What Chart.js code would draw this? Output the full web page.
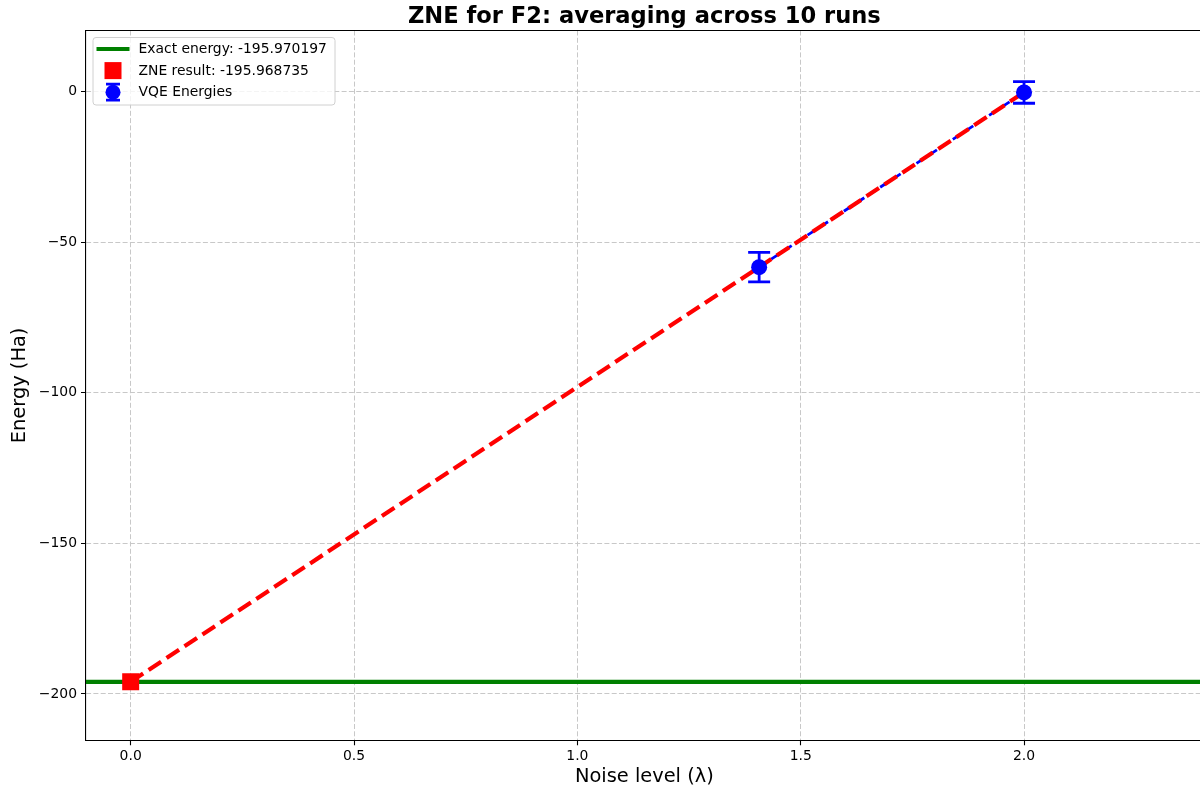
<!DOCTYPE html>
<html>
<head>
<meta charset="utf-8">
<title>ZNE for F2</title>
<script src="https://cdn.jsdelivr.net/npm/chart.js@4.4.1/dist/chart.umd.min.js"></script>
<style>
    html, body { margin: 0; padding: 0; background: #fff; overflow: hidden; }
    #zne-chart { display: block; }
</style>
</head>
<body>
<canvas id="zne-chart" width="1210" height="791"></canvas>
<script>
// VQE runs (mean over 10 runs) at each noise scale factor
const noiseLevels = [1.407, 2.0];
const vqeEnergies = [-58.28, -0.25];
const vqeErrors = [4.9, 3.6];

// zero-noise extrapolated value and reference energy
const zneNoise = [0];
const zneEnergy = [-195.968735];
const exactEnergy = -195.970197;

const xTickValues = [0, 0.5, 1.0, 1.5, 2.0];
const yTickValues = [-200, -150, -100, -50, 0];

const X_MIN = -0.1;
const X_MAX = 2.4;
const Y_MIN = -215.4;
const Y_MAX = 20.3;

const TITLE = "ZNE for F2: averaging across 10 runs";

const COLORS = {
    exact: "#008000",
    zne: "#ff0000",
    vqe: "#0000ff",
    grid: "#c8c8c8",
    text: "#000000"
};

const FONT = "'DejaVu Sans', sans-serif";

const vqePoints = noiseLevels.map((x, i) => ({ x, y: vqeEnergies[i] }));
const znePoints = zneNoise.map((x, i) => ({ x, y: zneEnergy[i] }));
const fitPoints = znePoints.concat(vqePoints);
const exactPoints = [{ x: X_MIN, y: exactEnergy }, { x: X_MAX, y: exactEnergy }];

const legendItems = [
    { kind: "line", label: `Exact energy: ${exactEnergy.toFixed(6)}` },
    { kind: "square", label: `ZNE result: ${zneEnergy[0].toFixed(6)}` },
    { kind: "errorbar", label: "VQE Energies" }
];

function minusSign(text) {
    return String(text).replace("-", "\u2212");
}

// vertical error bars with caps on the VQE points
const errorBarPlugin = {
    id: "errorBars",
    afterDatasetsDraw(chart) {
        const { ctx, scales } = chart;
        ctx.save();
        ctx.strokeStyle = COLORS.vqe;
        ctx.lineWidth = 2.8;
        vqePoints.forEach((pt, i) => {
            const px = scales.x.getPixelForValue(pt.x);
            const top = scales.y.getPixelForValue(pt.y + vqeErrors[i]);
            const bottom = scales.y.getPixelForValue(pt.y - vqeErrors[i]);
            ctx.beginPath();
            ctx.moveTo(px, top);
            ctx.lineTo(px, bottom);
            ctx.moveTo(px - 11, top);
            ctx.lineTo(px + 11, top);
            ctx.moveTo(px - 11, bottom);
            ctx.lineTo(px + 11, bottom);
            ctx.stroke();
        });
        ctx.restore();
    }
};

// title centred over the axes, top/right spines and the boxed legend
const frameLegendPlugin = {
    id: "frameLegend",
    afterDraw(chart) {
        const { ctx, chartArea } = chart;
        ctx.save();
        ctx.fillStyle = COLORS.text;
        ctx.font = `bold 22.6px ${FONT}`;
        ctx.textAlign = "center";
        ctx.textBaseline = "alphabetic";
        ctx.fillText(TITLE, (chartArea.left + chartArea.right) / 2, chartArea.top - 8);

        ctx.strokeStyle = "#000";
        ctx.lineWidth = 1.1;
        ctx.beginPath();
        ctx.moveTo(chartArea.left, chartArea.top);
        ctx.lineTo(chartArea.right, chartArea.top);
        ctx.lineTo(chartArea.right, chartArea.bottom);
        ctx.stroke();

        const boxX = chartArea.left + 7;
        const boxY = chartArea.top + 7;
        const boxW = 242;
        const boxH = 67.5;
        ctx.beginPath();
        ctx.roundRect(boxX, boxY, boxW, boxH, 3);
        ctx.fillStyle = "rgba(255,255,255,0.8)";
        ctx.fill();
        ctx.strokeStyle = "#d0d0d0";
        ctx.lineWidth = 1;
        ctx.stroke();

        const markerX = boxX + 20;
        const textX = boxX + 45.5;
        ctx.font = `13.9px ${FONT}`;
        ctx.textAlign = "left";
        ctx.textBaseline = "middle";
        legendItems.forEach((item, i) => {
            const cy = boxY + 11.5 + i * 21.6;
            if (item.kind === "line") {
                ctx.strokeStyle = COLORS.exact;
                ctx.lineWidth = 4;
                ctx.beginPath();
                ctx.moveTo(markerX - 16.5, cy);
                ctx.lineTo(markerX + 16.5, cy);
                ctx.stroke();
            } else if (item.kind === "square") {
                ctx.fillStyle = COLORS.zne;
                ctx.fillRect(markerX - 8.5, cy - 8.5, 17, 17);
            } else {
                ctx.strokeStyle = COLORS.vqe;
                ctx.fillStyle = COLORS.vqe;
                ctx.lineWidth = 2.8;
                ctx.beginPath();
                ctx.moveTo(markerX, cy - 8);
                ctx.lineTo(markerX, cy + 8);
                ctx.moveTo(markerX - 7, cy - 8);
                ctx.lineTo(markerX + 7, cy - 8);
                ctx.moveTo(markerX - 7, cy + 8);
                ctx.lineTo(markerX + 7, cy + 8);
                ctx.stroke();
                ctx.beginPath();
                ctx.arc(markerX, cy, 7.5, 0, Math.PI * 2);
                ctx.fill();
            }
            ctx.fillStyle = COLORS.text;
            ctx.fillText(item.label, textX, cy + 0.5);
        });
        ctx.restore();
    }
};

const gridOptions = {
    color: COLORS.grid,
    lineWidth: 1,
    tickColor: "#000",
    tickLength: 5,
    tickWidth: 1.1,
    tickBorderDash: [1, 0]
};

const chart = new Chart(document.getElementById("zne-chart"), {
    type: "scatter",
    data: {
        datasets: [
            {
                label: "ZNE result",
                data: znePoints,
                pointStyle: "rect",
                pointRadius: 12,
                backgroundColor: COLORS.zne,
                borderWidth: 0,
                order: 0
            },
            {
                label: "VQE Energies",
                data: vqePoints,
                pointStyle: "circle",
                pointRadius: 8,
                backgroundColor: COLORS.vqe,
                borderWidth: 0,
                order: 1
            },
            {
                type: "line",
                label: "Extrapolation",
                data: fitPoints,
                borderColor: COLORS.zne,
                borderWidth: 4.2,
                borderDash: [15, 6.5],
                pointRadius: 0,
                fill: false,
                order: 2
            },
            {
                type: "line",
                label: "VQE trend",
                data: vqePoints,
                borderColor: COLORS.vqe,
                borderWidth: 2.8,
                borderDash: [10, 4.5],
                pointRadius: 0,
                fill: false,
                order: 3
            },
            {
                type: "line",
                label: "Exact energy",
                data: exactPoints,
                borderColor: COLORS.exact,
                borderWidth: 4.2,
                pointRadius: 0,
                fill: false,
                order: 4
            }
        ]
    },
    options: {
        responsive: false,
        animation: false,
        events: [],
        layout: { autoPadding: false, padding: { left: 0, right: 7.3, top: 30.5, bottom: 0 } },
        plugins: {
            legend: { display: false },
            tooltip: { enabled: false },
            title: { display: false }
        },
        scales: {
            x: {
                type: "linear",
                min: X_MIN,
                max: X_MAX,
                afterBuildTicks(scale) {
                    scale.ticks = xTickValues.map((value) => ({ value }));
                },
                afterFit(scale) {
                    scale.height = 50.7;
                    scale.paddingLeft = 0;
                    scale.paddingRight = 0;
                },
                ticks: {
                    color: COLORS.text,
                    font: { family: FONT, size: 13.9 },
                    padding: 3,
                    maxRotation: 0,
                    callback: (value) => Number(value).toFixed(1)
                },
                grid: gridOptions,
                border: { display: true, color: "#000", width: 1.1, dash: [5, 2.3] },
                title: {
                    display: true,
                    text: "Noise level (\u03bb)",
                    color: COLORS.text,
                    font: { family: FONT, size: 19.4 },
                    padding: { top: 0, bottom: 2 }
                }
            },
            y: {
                type: "linear",
                min: Y_MIN,
                max: Y_MAX,
                afterBuildTicks(scale) {
                    scale.ticks = yTickValues.map((value) => ({ value }));
                },
                afterFit(scale) {
                    scale.width = 86;
                    scale.paddingTop = 0;
                    scale.paddingBottom = 0;
                },
                ticks: {
                    color: COLORS.text,
                    font: { family: FONT, size: 13.9 },
                    padding: 4,
                    callback: (value) => minusSign(value)
                },
                grid: gridOptions,
                border: { display: true, color: "#000", width: 1.1, dash: [5, 2.3] },
                title: {
                    display: true,
                    text: "Energy (Ha)",
                    color: COLORS.text,
                    font: { family: FONT, size: 19.4 },
                    padding: { top: 8, bottom: 0 }
                }
            }
        }
    },
    plugins: [errorBarPlugin, frameLegendPlugin]
});
</script>
</body>
</html>
